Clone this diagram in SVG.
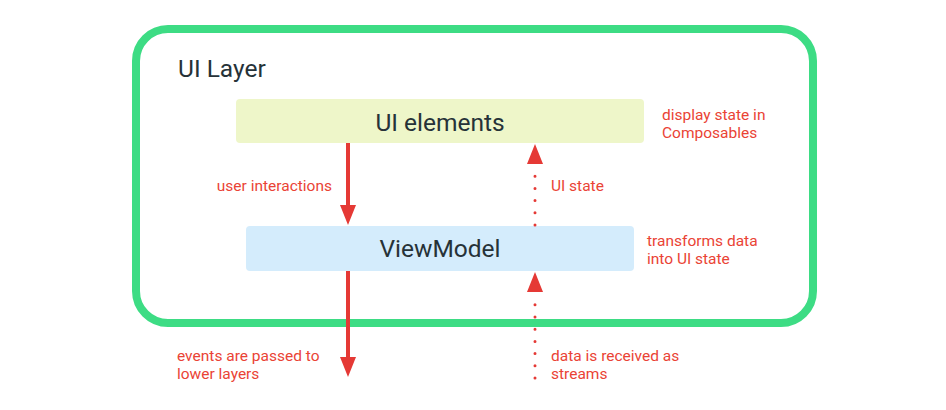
<svg xmlns="http://www.w3.org/2000/svg" width="946" height="410" viewBox="0 0 946 410">
  <style>
    .title { font-family: Roboto, "Liberation Sans", sans-serif; font-size: 24.5px; fill: #263238; }
    .lbl { font-family: Roboto, "Liberation Sans", sans-serif; font-size: 15.5px; fill: #EA4335; }
    .solid { stroke: #E53935; stroke-width: 4; fill: none; }
    .dots { stroke: #E53935; stroke-width: 3; stroke-linecap: round; stroke-dasharray: 0 12.2; fill: none; }
    .head { fill: #E53935; }
  </style>
  <rect width="946" height="410" fill="#ffffff"/>
  <g id="ui-layer">
    <rect x="136" y="29" width="677" height="294" rx="32" fill="none" stroke="#3DDC84" stroke-width="8"/>
    <text class="title" x="178" y="77" font-size="24">UI Layer</text>
  </g>
  <g id="ui-elements">
    <rect x="236" y="99" width="408" height="44" rx="4" fill="#EEF6C9"/>
    <text class="title" x="440" y="131" text-anchor="middle">UI elements</text>
    <text class="lbl" x="662" y="120">display state in</text>
    <text class="lbl" x="662" y="138">Composables</text>
  </g>
  <g id="viewmodel">
    <rect x="246" y="226" width="388" height="45" rx="4" fill="#D4ECFC"/>
    <text class="title" x="440" y="257" text-anchor="middle">ViewModel</text>
    <text class="lbl" x="647" y="246">transforms data</text>
    <text class="lbl" x="647" y="264">into UI state</text>
  </g>
  <g id="connectors">
    <line class="solid" x1="348" y1="143" x2="348" y2="207"/>
    <polygon class="head" points="340,205 356,205 348,225"/>
    <text class="lbl" x="332" y="191" text-anchor="end">user interactions</text>

    <line class="dots" x1="535" y1="225" x2="535" y2="174"/>
    <polygon class="head" points="527,164 543,164 535,144"/>
    <text class="lbl" x="551" y="191">UI state</text>

    <line class="solid" x1="348" y1="271" x2="348" y2="359"/>
    <polygon class="head" points="340,357 356,357 348,377"/>
    <text class="lbl" x="177" y="361">events are passed to</text>
    <text class="lbl" x="177" y="379">lower layers</text>

    <line class="dots" x1="535" y1="378" x2="535" y2="302"/>
    <polygon class="head" points="527,292 543,292 535,272"/>
    <text class="lbl" x="551" y="361">data is received as</text>
    <text class="lbl" x="551" y="379">streams</text>
  </g>
</svg>
